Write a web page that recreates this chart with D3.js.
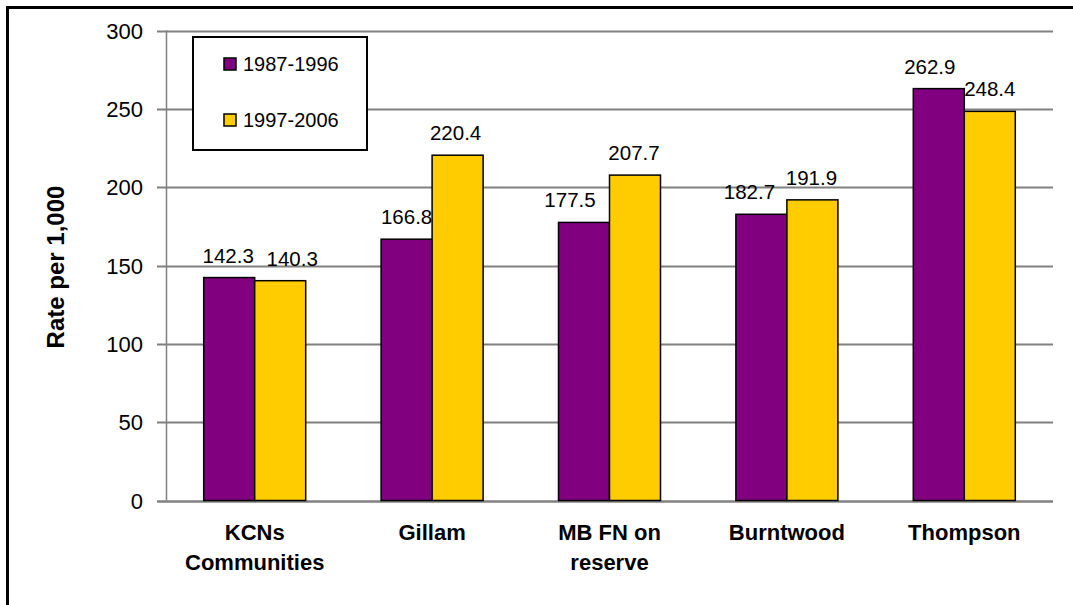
<!DOCTYPE html>
<html lang="en">
<head>
<meta charset="UTF-8">
<title>Rate per 1,000</title>
<style>
    body { margin: 0; background: #fff; }
    svg text { font-family: "Liberation Sans", Arial, sans-serif; }
    .tick-label { font-size: 22px; }
    .value { font-size: 20.5px; }
    .cat { font-size: 22px; font-weight: bold; }
    .ytitle { font-size: 24px; font-weight: bold; }
    .legend-text { font-size: 20px; }
</style>
</head>
<body>
<div id="chart"></div>
<script src="https://cdn.jsdelivr.net/npm/d3@7"></script>
<script>
// data
var categories = [["KCNs", "Communities"], ["Gillam"], ["MB FN on", "reserve"], ["Burntwood"], ["Thompson"]];
var seriesNames = ["1987-1996", "1997-2006"];
var rates8796 = [142.3, 166.8, 177.5, 182.7, 262.9];
var rates9706 = [140.3, 220.4, 207.7, 191.9, 248.4];
var yTicks = [0, 50, 100, 150, 200, 250, 300];

var colors = ["#800080", "#FFCC00"];
// small horizontal nudges of the value labels, as Excel placed them
var labelShift = [[-1, 12], [0, -2], [-14, -1], [-12, -1], [-9, 0]];

var W = 1073, H = 605;
var plot = {left: 166, right: 1053, top: 30.5, bottom: 500.5};

var svg = d3.select("#chart").append("svg")
    .attr("width", W)
    .attr("height", H);

svg.append("rect").attr("width", W).attr("height", H).attr("fill", "#fff");

// outer border (only top and left are in frame)
svg.append("path")
    .attr("d", "M7.5," + H + "V7.5H" + W)
    .attr("fill", "none")
    .attr("stroke", "#000")
    .attr("stroke-width", 3);

var y = d3.scaleLinear().domain([0, 300]).range([plot.bottom, plot.top]);
var x0 = d3.scaleBand().domain(d3.range(categories.length)).range([plot.left, plot.right]);
var barW = 51;
var x1 = d3.scaleBand().domain([0, 1]).range([-barW, barW]);

// gridlines + ticks
svg.append("g").selectAll("line").data(yTicks).join("line")
    .attr("x1", plot.left - 9).attr("x2", plot.right)
    .attr("y1", function (d) { return Math.round(y(d)) + 0.5; })
    .attr("y2", function (d) { return Math.round(y(d)) + 0.5; })
    .attr("stroke", "#808080")
    .attr("stroke-width", function (d) { return d === 0 ? 2.5 : 2; });

svg.append("line")
    .attr("x1", plot.left + 0.5).attr("x2", plot.left + 0.5)
    .attr("y1", plot.top).attr("y2", plot.bottom)
    .attr("stroke", "#808080").attr("stroke-width", 1.5);

svg.append("g").selectAll("text").data(yTicks).join("text")
    .attr("class", "tick-label")
    .attr("x", 143)
    .attr("y", function (d) { return y(d) + 8; })
    .attr("text-anchor", "end")
    .text(function (d) { return d; });

svg.append("text")
    .attr("class", "ytitle")
    .attr("transform", "translate(64,267) rotate(-90)")
    .attr("text-anchor", "middle")
    .text("Rate per 1,000");

// bars
var series = [rates8796, rates9706];
var groups = svg.append("g").selectAll("g").data(categories).join("g")
    .attr("transform", function (d, i) { return "translate(" + (x0(i) + x0.bandwidth() / 2) + ",0)"; });

groups.each(function (c, i) {
    var g = d3.select(this);
    series.forEach(function (s, k) {
        g.append("rect")
            .attr("x", x1(k))
            .attr("y", y(s[i]))
            .attr("width", x1.bandwidth())
            .attr("height", plot.bottom - y(s[i]))
            .attr("fill", colors[k])
            .attr("stroke", "#000")
            .attr("stroke-width", 1.5);
        g.append("text")
            .attr("class", "value")
            .attr("x", x1(k) + x1.bandwidth() / 2 + labelShift[i][k])
            .attr("y", y(s[i]) - 15)
            .attr("text-anchor", "middle")
            .text(s[i].toFixed(1));
    });
    g.append("text")
        .attr("class", "cat")
        .attr("text-anchor", "middle")
        .selectAll("tspan").data(c).join("tspan")
        .attr("x", 0)
        .attr("y", function (d, j) { return 540 + j * 30; })
        .text(function (d) { return d; });
});

// legend
var legend = svg.append("g");
legend.append("rect")
    .attr("x", 193).attr("y", 37)
    .attr("width", 174).attr("height", 113)
    .attr("fill", "#fff").attr("stroke", "#000").attr("stroke-width", 2);

var li = legend.selectAll("g").data(seriesNames).join("g")
    .attr("transform", function (d, i) { return "translate(224," + (58 + i * 56) + ")"; });
li.append("rect")
    .attr("width", 12).attr("height", 12)
    .attr("fill", function (d, i) { return colors[i]; })
    .attr("stroke", "#000").attr("stroke-width", 1.5);
li.append("text")
    .attr("class", "legend-text")
    .attr("x", 19).attr("y", 13)
    .text(function (d) { return d; });
</script>
</body>
</html>
